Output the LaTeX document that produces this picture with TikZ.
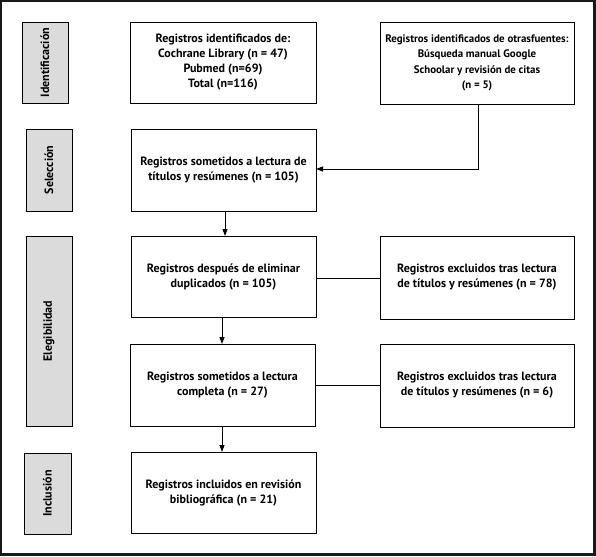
\documentclass[tikz,border=0pt]{standalone}
\usepackage{fontspec}
\setmainfont{PT Sans}
\usetikzlibrary{arrows.meta}
\begin{document}
\begin{tikzpicture}[x=1pt,y=-1pt,
  every node/.style={inner sep=0pt,outer sep=0pt},
  box/.style={draw=black,line width=0.9pt,align=center,font=\bfseries\fontsize{12}{15}\selectfont},
  phase/.style={draw=black,line width=0.9pt,fill=gray!28},
  phasetext/.style={rotate=90,font=\bfseries\fontsize{12}{14}\selectfont},
  arr/.style={line width=0.9pt,-{Triangle[length=7pt,width=5pt]}},
  ln/.style={line width=0.9pt}]
\useasboundingbox (0,0) rectangle (596,556);
\draw[line width=2.4pt,draw=black!90] (1.2,1.2) rectangle (594.3,554.3);
% phase boxes
\node[phase,minimum width=46pt,minimum height=81pt] (p1) at (45,62.5) {};
\node[phasetext] at (p1) {Identificación};
\node[phase,minimum width=46pt,minimum height=82pt] (p2) at (49,170) {};
\node[phasetext] at (p2) {Selección};
\node[phase,minimum width=46pt,minimum height=190pt] (p3) at (49,331) {};
\node[phasetext] at (p3) {Elegibilidad};
\node[phase,minimum width=47pt,minimum height=81pt] (p4) at (47.5,493.5) {};
\node[phasetext] at (p4) {Inclusión};
% main boxes
\node[box,minimum width=186pt,minimum height=81pt] (b1) at (223,62.5) {Registros identificados de:\\Cochrane Library (n = 47)\\Pubmed (n=69)\\Total (n=116)};
\node[box,minimum width=194pt,minimum height=82pt,font=\bfseries\fontsize{10.9}{15.5}\selectfont] (o1) at (477,63) {Registros identificados de otrasfuentes:\\Búsqueda manual Google\\Schoolar y revisión de citas\\(n = 5)};
\node[box,minimum width=185pt,minimum height=82pt] (b2) at (223.5,170) {Registros sometidos a lectura de\\títulos y resúmenes (n = 105)};
\node[box,minimum width=185pt,minimum height=81pt] (b3) at (223.5,276.5) {Registros después de eliminar\\duplicados (n = 105)};
\node[box,minimum width=194pt,minimum height=83pt] (e1) at (477,277.5) {Registros excluidos tras lectura\\de títulos y resúmenes (n = 78)};
\node[box,minimum width=185pt,minimum height=82pt] (b4) at (222.5,385) {Registros sometidos a lectura\\completa (n = 27)};
\node[box,minimum width=194pt,minimum height=83pt] (e2) at (477,385.5) {Registros excluidos tras lectura\\de títulos y resúmenes (n = 6)};
\node[box,minimum width=185pt,minimum height=81pt] (b5) at (223.5,492.5) {Registros incluidos en revisión\\bibliográfica (n = 21)};
% connectors
\coordinate (k) at (478,169);
\draw[arr] (o1.south -| k) -- (k) -- (b2.east |- k);
\draw[arr] (b2.south -| 225,0) -- (b3.north -| 225,0);
\draw[arr] (b3.south -| 222,0) -- (b4.north -| 222,0);
\draw[arr] (b4.south -| 222,0) -- (b5.north -| 222,0);
\draw[ln] (b3.east |- 0,278) -- (e1.west |- 0,278);
\draw[ln] (b4.east |- 0,385) -- (e2.west |- 0,385);
\end{tikzpicture}
\end{document}
